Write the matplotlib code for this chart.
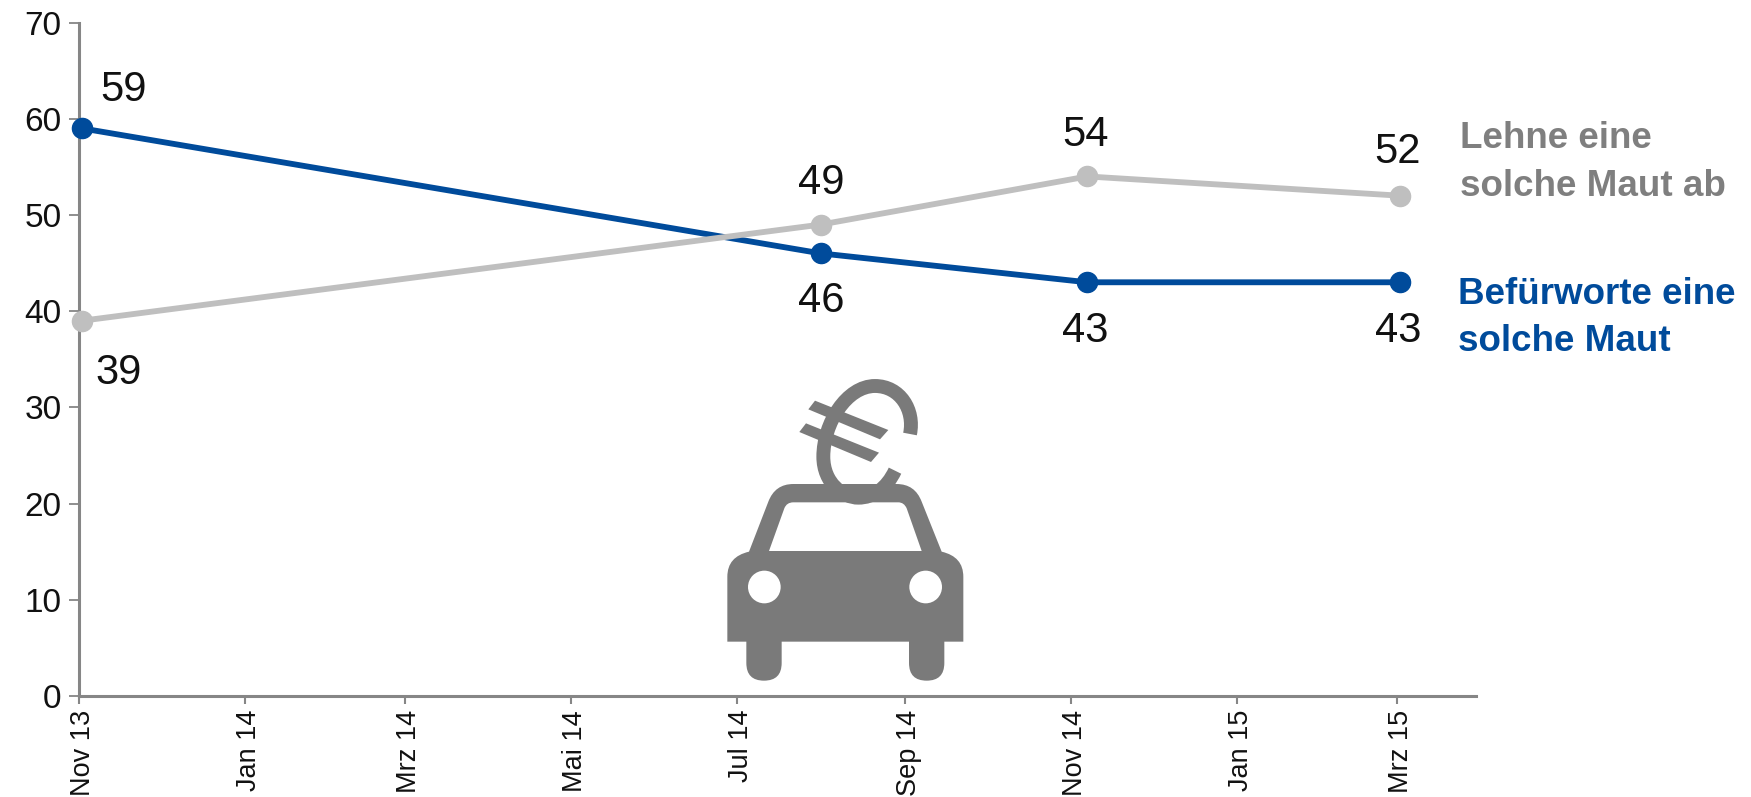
import datetime as dt
import matplotlib
matplotlib.use('Agg')
import matplotlib.pyplot as plt
import matplotlib.dates as mdates
from matplotlib.patches import PathPatch, Circle, FancyBboxPatch, Polygon
from matplotlib.path import Path
from matplotlib.transforms import Affine2D, ScaledTranslation

plt.rcParams['font.family'] = ['Liberation Sans', 'DejaVu Sans']

# survey dates and answers in percent
dates = [dt.date(2013, 11, 2), dt.date(2014, 8, 1), dt.date(2014, 11, 7), dt.date(2015, 3, 2)]
dafuer = [59, 46, 43, 43]
dagegen = [39, 49, 54, 52]
tick_dates = [dt.date(2013, 11, 1), dt.date(2014, 1, 1), dt.date(2014, 3, 1), dt.date(2014, 5, 1),
              dt.date(2014, 7, 1), dt.date(2014, 9, 1), dt.date(2014, 11, 1), dt.date(2015, 1, 1),
              dt.date(2015, 3, 1)]
tick_labels = ['Nov 13', 'Jan 14', 'Mrz 14', 'Mai 14', 'Jul 14', 'Sep 14', 'Nov 14', 'Jan 15', 'Mrz 15']
y_ticks = [0, 10, 20, 30, 40, 50, 60, 70]

W, H = 1751, 797
BLUE = '#004b9b'
LIGHT = '#bfbfbf'
GREY = '#7f7f7f'
AXIS = '#868686'
ICON = '#7a7a7a'

fig = plt.figure(figsize=(W / 100, H / 100), dpi=100)
ax = fig.add_axes([79 / W, 1 - 696 / H, (1476 - 79) / W, (696 - 22.5) / H])

ax.plot(dates, dafuer, color=BLUE, lw=4.2, marker='o', ms=14.5, zorder=3, clip_on=False)
ax.plot(dates, dagegen, color=LIGHT, lw=4.2, marker='o', ms=14.5, zorder=4, clip_on=False)

ax.set_xlim(dt.date(2013, 11, 1), dt.date(2015, 3, 30))
ax.set_ylim(0, 70)
ax.set_yticks(y_ticks)
ax.set_xticks([mdates.date2num(d) for d in tick_dates])
ax.set_xticklabels(tick_labels, rotation=90, fontsize=19.5, color='#111111')
ax.tick_params(axis='y', labelsize=24, labelcolor='#111111', length=7.5, width=1.3, color=AXIS, pad=5)
ax.tick_params(axis='x', length=6, width=1.5, color=AXIS, pad=4)
for lab in ax.get_xticklabels():
    lab.set_transform(lab.get_transform() + ScaledTranslation(4 / 100, 0, fig.dpi_scale_trans))
for s in ['top', 'right']:
    ax.spines[s].set_visible(False)
for s in ['left', 'bottom']:
    ax.spines[s].set_color(AXIS)
    ax.spines[s].set_linewidth(2.2)

# value labels, offsets in pixels from the point
off_dafuer = [(42, 38), (0, -48), (-2, -49), (-2, -49)]
off_dagegen = [(37, -52), (0, 42), (-2, 41), (-2, 44)]
for vals, offs in [(dafuer, off_dafuer), (dagegen, off_dagegen)]:
    for d, v, o in zip(dates, vals, offs):
        ax.annotate(str(v), (d, v), xytext=(o[0] * 0.72, o[1] * 0.72), textcoords='offset points',
                    ha='center', va='center', fontsize=30, color='#111111', zorder=5)

# series labels
def px_text(x, y, s, color):
    fig.text(x / W, 1 - y / H, s, color=color, fontsize=26.5, fontweight='bold', ha='left', va='center')

px_text(1460, 139, 'Lehne eine', GREY)
px_text(1460, 186, 'solche Maut ab', GREY)
px_text(1458, 295, 'Befürworte eine', BLUE)
px_text(1458, 341, 'solche Maut', BLUE)

# car icon, drawn in the coordinates of a 3x crop starting at (680, 360)
icon_tf = Affine2D().scale(1 / 3, -1 / 3).translate(680, H - 360)

M, L, C3, C4, Z = Path.MOVETO, Path.LINETO, Path.CURVE3, Path.CURVE4, Path.CLOSEPOLY
body = [
    (M, (142, 845)), (L, (850, 845)), (L, (850, 650)), (C3, (850, 590)), (C3, (785, 575)),
    (L, (725, 425)), (C3, (705, 372)), (C3, (650, 372)), (L, (340, 372)), (C3, (285, 372)),
    (C3, (265, 425)), (L, (207, 575)), (C3, (142, 590)), (C3, (142, 650)), (Z, (142, 845)),
    # window hole, opposite direction
    (M, (267, 573)), (L, (313, 445)), (C3, (320, 427)), (C3, (340, 427)), (L, (655, 427)),
    (C3, (672, 427)), (C3, (680, 445)), (L, (725, 573)), (Z, (267, 573)),
]
codes = [c for c, p in body]
verts = [p for c, p in body]
fig.add_artist(PathPatch(Path(verts, codes), fc=ICON, ec='none', transform=icon_tf))

for x0 in [199, 687]:
    fig.add_artist(FancyBboxPatch((x0 + 53, 845), 0, 64, boxstyle='round,pad=53,rounding_size=53',
                                  fc=ICON, ec='none', transform=icon_tf))
for cx in [253, 737]:
    fig.add_artist(Circle((cx, 681), 49, fc='white', ec='none', transform=icon_tf, zorder=3))

euro_pts = [(M, (690, 222)), (C4, (705, 150)), (C4, (660, 78)), (C4, (585, 78)),
            (C4, (500, 78)), (C4, (430, 190)), (C4, (430, 290)),
            (C4, (430, 370)), (C4, (490, 413)), (C4, (535, 413)),
            (C4, (580, 413)), (C4, (620, 385)), (C4, (645, 332))]
euro = Path([p for c, p in euro_pts], [c for c, p in euro_pts])
fig.add_artist(PathPatch(euro, fc='none', ec=ICON, lw=10, capstyle='butt', transform=icon_tf))
for bar in [[(405, 122), (625, 210), (600, 238), (385, 148)],
            [(378, 190), (597, 278), (573, 306), (358, 216)]]:
    fig.add_artist(Polygon(bar, closed=True, fc=ICON, ec='none', transform=icon_tf))

fig.savefig('out.png', dpi=100)
